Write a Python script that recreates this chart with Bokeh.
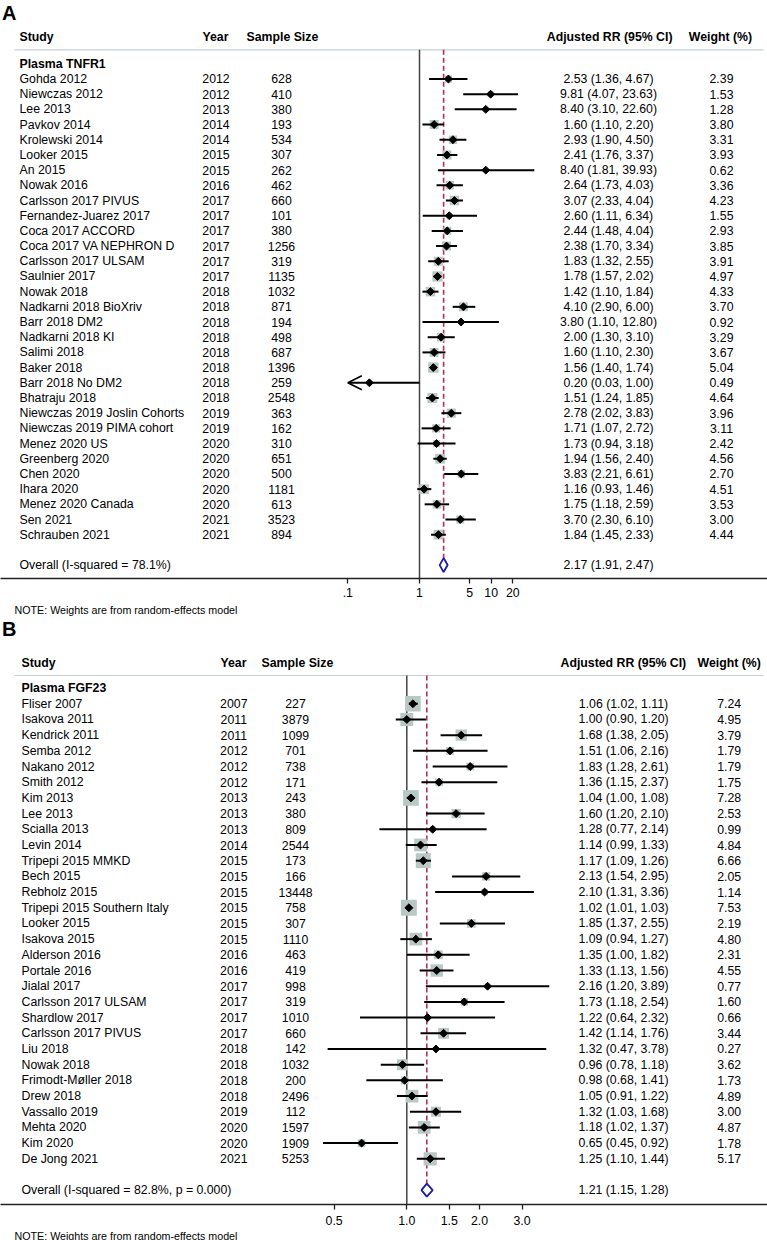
import math
from bokeh.plotting import figure
from bokeh.models import Range1d, FixedTicker, Title, Arrow, OpenHead
from bokeh.layouts import column
from bokeh.embed import file_html
from bokeh.resources import INLINE
from bokeh.core.properties import value

FONT = "Liberation Sans"

# ---------------- Panel A data (Plasma TNFR1) ----------------
a_group = "Plasma TNFR1"
a_names = ["Gohda 2012", "Niewczas 2012", "Lee 2013", "Pavkov 2014", "Krolewski 2014",
           "Looker 2015", "An 2015", "Nowak 2016", "Carlsson 2017 PIVUS",
           "Fernandez-Juarez 2017", "Coca 2017 ACCORD", "Coca 2017 VA NEPHRON D",
           "Carlsson 2017 ULSAM", "Saulnier 2017", "Nowak 2018", "Nadkarni 2018 BioXriv",
           "Barr 2018 DM2", "Nadkarni 2018 KI", "Salimi 2018", "Baker 2018",
           "Barr 2018 No DM2", "Bhatraju 2018", "Niewczas 2019 Joslin Cohorts",
           "Niewczas 2019 PIMA cohort", "Menez 2020 US", "Greenberg 2020", "Chen 2020",
           "Ihara 2020", "Menez 2020 Canada", "Sen 2021", "Schrauben 2021"]
a_years = [2012, 2012, 2013, 2014, 2014, 2015, 2015, 2016, 2017, 2017, 2017, 2017, 2017,
           2017, 2018, 2018, 2018, 2018, 2018, 2018, 2018, 2018, 2019, 2019, 2020, 2020,
           2020, 2020, 2020, 2021, 2021]
a_n = [628, 410, 380, 193, 534, 307, 262, 462, 660, 101, 380, 1256, 319, 1135, 1032, 871,
       194, 498, 687, 1396, 259, 2548, 363, 162, 310, 651, 500, 1181, 613, 3523, 894]
a_rr = [2.53, 9.81, 8.40, 1.60, 2.93, 2.41, 8.40, 2.64, 3.07, 2.60, 2.44, 2.38, 1.83, 1.78,
        1.42, 4.10, 3.80, 2.00, 1.60, 1.56, 0.20, 1.51, 2.78, 1.71, 1.73, 1.94, 3.83, 1.16,
        1.75, 3.70, 1.84]
a_lo = [1.36, 4.07, 3.10, 1.10, 1.90, 1.76, 1.81, 1.73, 2.33, 1.11, 1.48, 1.70, 1.32, 1.57,
        1.10, 2.90, 1.10, 1.30, 1.10, 1.40, 0.03, 1.24, 2.02, 1.07, 0.94, 1.56, 2.21, 0.93,
        1.18, 2.30, 1.45]
a_hi = [4.67, 23.63, 22.60, 2.20, 4.50, 3.37, 39.93, 4.03, 4.04, 6.34, 4.04, 3.34, 2.55,
        2.02, 1.84, 6.00, 12.80, 3.10, 2.30, 1.74, 1.00, 1.85, 3.83, 2.72, 3.18, 2.40, 6.61,
        1.46, 2.59, 6.10, 2.33]
a_w = [2.39, 1.53, 1.28, 3.80, 3.31, 3.93, 0.62, 3.36, 4.23, 1.55, 2.93, 3.85, 3.91, 4.97,
       4.33, 3.70, 0.92, 3.29, 3.67, 5.04, 0.49, 4.64, 3.96, 3.11, 2.42, 4.56, 2.70, 4.51,
       3.53, 3.00, 4.44]
a_overall = [2.17, 1.91, 2.47]
a_overall_label = "Overall (I-squared = 78.1%)"
a_ticks = [0.1, 1, 5, 10, 20]
a_tick_labels = [".1", "1", "5", "10", "20"]

# ---------------- Panel B data (Plasma FGF23) ----------------
b_group = "Plasma FGF23"
b_names = ["Fliser 2007", "Isakova 2011", "Kendrick 2011", "Semba 2012", "Nakano 2012",
           "Smith 2012", "Kim 2013", "Lee 2013", "Scialla 2013", "Levin 2014",
           "Tripepi 2015 MMKD", "Bech 2015", "Rebholz 2015", "Tripepi 2015 Southern Italy",
           "Looker 2015", "Isakova 2015", "Alderson 2016", "Portale 2016", "Jialal 2017",
           "Carlsson 2017 ULSAM", "Shardlow 2017", "Carlsson 2017 PIVUS", "Liu 2018",
           "Nowak 2018", "Frimodt-Møller 2018", "Drew 2018", "Vassallo 2019", "Mehta 2020",
           "Kim 2020", "De Jong 2021"]
b_years = [2007, 2011, 2011, 2012, 2012, 2012, 2013, 2013, 2013, 2014, 2015, 2015, 2015,
           2015, 2015, 2015, 2016, 2016, 2017, 2017, 2017, 2017, 2018, 2018, 2018, 2018,
           2019, 2020, 2020, 2021]
b_n = [227, 3879, 1099, 701, 738, 171, 243, 380, 809, 2544, 173, 166, 13448, 758, 307, 1110,
       463, 419, 998, 319, 1010, 660, 142, 1032, 200, 2496, 112, 1597, 1909, 5253]
b_rr = [1.06, 1.00, 1.68, 1.51, 1.83, 1.36, 1.04, 1.60, 1.28, 1.14, 1.17, 2.13, 2.10, 1.02,
        1.85, 1.09, 1.35, 1.33, 2.16, 1.73, 1.22, 1.42, 1.32, 0.96, 0.98, 1.05, 1.32, 1.18,
        0.65, 1.25]
b_lo = [1.02, 0.90, 1.38, 1.06, 1.28, 1.15, 1.00, 1.20, 0.77, 0.99, 1.09, 1.54, 1.31, 1.01,
        1.37, 0.94, 1.00, 1.13, 1.20, 1.18, 0.64, 1.14, 0.47, 0.78, 0.68, 0.91, 1.03, 1.02,
        0.45, 1.10]
b_hi = [1.11, 1.20, 2.05, 2.16, 2.61, 2.37, 1.08, 2.10, 2.14, 1.33, 1.26, 2.95, 3.36, 1.03,
        2.55, 1.27, 1.82, 1.56, 3.89, 2.54, 2.32, 1.76, 3.78, 1.18, 1.41, 1.22, 1.68, 1.37,
        0.92, 1.44]
b_w = [7.24, 4.95, 3.79, 1.79, 1.79, 1.75, 7.28, 2.53, 0.99, 4.84, 6.66, 2.05, 1.14, 7.53,
       2.19, 4.80, 2.31, 4.55, 0.77, 1.60, 0.66, 3.44, 0.27, 3.62, 1.73, 4.89, 3.00, 4.87,
       1.78, 5.17]
b_overall = [1.21, 1.15, 1.28]
b_overall_label = "Overall (I-squared = 82.8%, p = 0.000)"
b_ticks = [0.5, 1, 1.5, 2, 3]
b_tick_labels = ["0.5", "1.0", "1.5", "2.0", "3.0"]

headers = ["Study", "Year", "Sample Size", "Adjusted RR (95% CI)", "Weight (%)"]
note_text = "NOTE: Weights are from random-effects model"

BOX_COLOR = "#b9c8c4"
DASH_COLOR = "#b0305c"
DIAMOND_COLOR = "#1c1c9e"
FS = "12.3px"
PAGE_W = 767


def make_panel(names, years, ns, rr, lo, hi, w, overall, overall_label, group,
               ticks, tick_labels, L, letter, extra_texts, note_below):
    # page-pixel -> data helpers (layout only)
    fx = lambda px: 10 ** ((px - L["x1"]) / L["dec"])
    fy = lambda py: (py - L["row0"]) / L["row"]

    top = L["top"]
    bot = top + L["fh"]
    p = figure(frame_width=PAGE_W, frame_height=L["fh"], x_axis_type="log",
               x_range=Range1d(fx(0), fx(PAGE_W)), y_range=Range1d(fy(bot), fy(top)),
               output_backend="svg", toolbar_location=None, y_axis_location=None,
               min_border_left=0, min_border_right=0, min_border_top=0,
               min_border_bottom=L["mbb"], background_fill_color="white",
               border_fill_color="white", outline_line_color=None)
    p.xgrid.visible = False
    p.ygrid.visible = False

    ax = p.xaxis[0]
    ax.ticker = FixedTicker(ticks=ticks)
    ax.major_label_overrides = {t: s for t, s in zip(ticks, tick_labels)}
    ax.minor_tick_line_color = None
    ax.major_tick_in = 0
    ax.major_tick_out = 5
    ax.major_tick_line_width = 1.3
    ax.axis_line_width = 1.4
    ax.axis_line_color = "#222222"
    ax.major_tick_line_color = "#222222"
    ax.major_label_standoff = L["standoff"]
    ax.major_label_text_font = FONT
    ax.major_label_text_font_size = FS
    ax.major_label_text_color = "black"

    k = len(names)
    rows = list(range(1, k + 1))
    ov_row = k + 2
    hline_y = fy(L["hline"])

    # header rule and reference lines
    p.segment(x0=[fx(14)], x1=[fx(763)], y0=[hline_y], y1=[hline_y],
              line_color="#c5d0d4", line_width=1.2)
    p.segment(x0=[1], x1=[1], y0=[hline_y], y1=[fy(bot)], line_color="#444444",
              line_width=1.5)
    half = L["dh"] / L["row"]
    p.segment(x0=[overall[0]], x1=[overall[0]], y0=[hline_y], y1=[ov_row - half],
              line_color=DASH_COLOR, line_width=1.6, line_dash="5 3")

    # weight boxes
    p.scatter(x=rr, y=rows, marker="square", size=[L["k"] * math.sqrt(v) for v in w],
              fill_color=BOX_COLOR, line_color=None)

    # CIs (clipped at the axis minimum with an arrow)
    clip = ticks[0] if L.get("clip") else None
    x0s, x1s, ys = [], [], []
    for r, l, h in zip(rows, lo, hi):
        if clip is not None and l < clip:
            p.add_layout(Arrow(end=OpenHead(size=14, line_width=1.6, line_color="black"),
                               x_start=h, y_start=r, x_end=clip, y_end=r,
                               line_width=2, line_color="black"))
        else:
            x0s.append(l); x1s.append(h); ys.append(r)
    p.segment(x0=x0s, x1=x1s, y0=ys, y1=ys, line_color="black", line_width=2)

    # point estimates
    p.scatter(x=rr, y=rows, marker="square", angle=math.pi / 4, size=5.6,
              fill_color="black", line_color="black")

    # overall diamond
    p.patch(x=[overall[1], overall[0], overall[2], overall[0]],
            y=[ov_row, ov_row - half, ov_row, ov_row + half],
            fill_color="white", line_color=DIAMOND_COLOR, line_width=1.8)

    tkw = dict(text_font=value(FONT), text_font_size=FS, text_baseline="middle",
               text_color="black")
    # headers
    hy = fy(L["hdr"])
    for htxt, hx in zip(headers, L["hdr_x"]):
        p.text(x=[fx(hx)], y=[hy], text=[htxt], text_align="left",
               text_font_style="bold", **tkw)
    p.text(x=[fx(L["c_name"])], y=[0], text=[group], text_align="left",
           text_font_style="bold", **tkw)

    est = ["%.2f (%.2f, %.2f)" % (a, b, c) for a, b, c in zip(rr, lo, hi)]
    wts = ["%.2f" % v for v in w]
    p.text(x=fx(L["c_name"]), y=rows, text=names, text_align="left", **tkw)
    p.text(x=fx(L["c_year"]), y=rows, text=[str(v) for v in years], text_align="center", **tkw)
    p.text(x=fx(L["c_n"]), y=rows, text=[str(v) for v in ns], text_align="center", **tkw)
    p.text(x=fx(L["c_est"]), y=rows, text=est, text_align="center", **tkw)
    p.text(x=fx(L["c_w"]), y=rows, text=wts, text_align="center", **tkw)

    p.text(x=[fx(L["c_name"])], y=[ov_row], text=[overall_label], text_align="left", **tkw)
    p.text(x=[fx(L["c_est"])], y=[ov_row],
           text=["%.2f (%.2f, %.2f)" % tuple(overall)], text_align="center", **tkw)

    # panel letter
    p.text(x=[fx(L["letter"][0])], y=[fy(L["letter"][1])], text=[letter],
           text_align="left", text_baseline="middle", text_font=value(FONT),
           text_font_size="20px", text_font_style="bold", text_color="black")

    for txt, px, py, size in extra_texts:
        p.text(x=[fx(px)], y=[fy(py)], text=[txt], text_align="left", text_baseline="middle",
               text_font=value(FONT), text_font_size=size, text_color="black")

    if note_below:
        p.add_layout(Title(text=note_text, align="left", offset=14, standoff=0,
                           text_font=FONT, text_font_size="10.7px",
                           text_font_style="normal", text_color="black"), "below")
    return p


LA = dict(x1=419.0, dec=71.7, row0=63.3, row=15.19, top=0, fh=578, mbb=25, standoff=4,
          hdr=36.7, hline=49.3, k=4.6, dh=7.0, clip=True, letter=(1.5, 12.5),
          hdr_x=[19, 202, 246, 546.3, 688.3], c_name=19, c_year=215.5, c_n=281,
          c_est=608, c_w=721)
LB = dict(x1=406.3, dec=241.5, row0=687.6, row=15.69, top=603, fh=601, mbb=0, standoff=6,
          hdr=662.7, hline=675.0, k=5.8, dh=6.5, clip=False, letter=(1.5, 628),
          hdr_x=[21, 220, 261, 560, 697], c_name=21, c_year=233.3, c_n=295,
          c_est=623, c_w=728.7)

pa = make_panel(a_names, a_years, a_n, a_rr, a_lo, a_hi, a_w, a_overall, a_overall_label,
                a_group, a_ticks, a_tick_labels, LA, "A", [], False)
pb = make_panel(b_names, b_years, b_n, b_rr, b_lo, b_hi, b_w, b_overall, b_overall_label,
                b_group, b_ticks, b_tick_labels, LB, "B",
                [(note_text, 14, 609.5, "10.7px")], True)

layout = column(pa, pb, spacing=0)
open("out.html", "w").write(file_html(layout, INLINE))
